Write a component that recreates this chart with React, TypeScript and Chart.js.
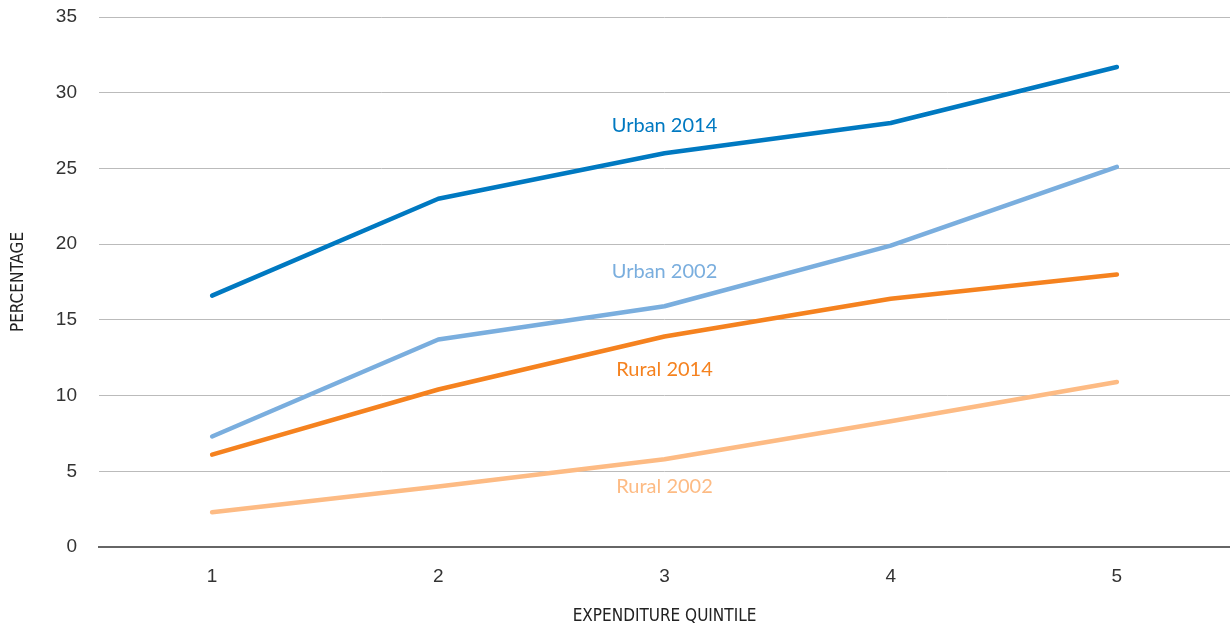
import React, { useEffect, useRef } from "react";
import { Chart, registerables } from "chart.js";

Chart.register(...registerables);

const categories = ["1", "2", "3", "4", "5"];
const urban2014 = [16.6, 23.0, 26.0, 28.0, 31.7];
const urban2002 = [7.3, 13.7, 15.9, 19.9, 25.1];
const rural2014 = [6.1, 10.4, 13.9, 16.4, 18.0];
const rural2002 = [2.3, 4.0, 5.8, 8.3, 10.9];
const seriesNames = ["Urban 2014", "Urban 2002", "Rural 2014", "Rural 2002"];
const seriesColors = ["#0079c1", "#7aaede", "#f5821f", "#fdbb84"];
const labelValues = [27.8, 18.2, 11.7, 4.0];
const labelCategory = "3";
const yTicks = [0, 5, 10, 15, 20, 25, 30, 35];

const labelPlugin = {
  id: "lineLabels",
  afterDatasetsDraw(chart: any) {
    const { ctx, scales } = chart;
    const x = scales.x.getPixelForValue(categories.indexOf(labelCategory));
    ctx.save();
    ctx.font = "20px Lato, 'Open Sans', sans-serif";
    ctx.textAlign = "center";
    ctx.textBaseline = "middle";
    seriesNames.forEach((name, i) => {
      ctx.fillStyle = seriesColors[i];
      ctx.fillText(name, x, scales.y.getPixelForValue(labelValues[i]));
    });
    ctx.restore();
  },
};

export default function App() {
  const ref = useRef<HTMLCanvasElement>(null);
  useEffect(() => {
    document.body.style.margin = "0";
    const data = [urban2014, urban2002, rural2014, rural2002];
    const chart = new Chart(ref.current!, {
      type: "line",
      data: {
        labels: categories,
        datasets: data.map((d, i) => ({
          label: seriesNames[i],
          data: d,
          borderColor: seriesColors[i],
          backgroundColor: seriesColors[i],
          borderWidth: 4.5,
          borderCapStyle: "round" as const,
          borderJoinStyle: "round" as const,
          pointRadius: 0,
          tension: 0,
        })),
      },
      options: {
        animation: false,
        responsive: false,
        maintainAspectRatio: false,
        layout: { padding: { top: 17, right: 0, left: 0, bottom: 0 } },
        plugins: { legend: { display: false }, tooltip: { enabled: false } },
        scales: {
          x: {
            offset: true,
            grid: { display: false, drawTicks: false },
            border: { display: true, color: "#666", width: 2 },
            ticks: {
              color: "#333",
              font: { size: 19, family: "'Liberation Sans', Arial, sans-serif" },
              padding: 18,
            },
            title: {
              display: true,
              text: "EXPENDITURE QUINTILE",
              color: "#222",
              font: { size: 17, family: "'Liberation Sans Narrow', 'DejaVu Sans Condensed', sans-serif" },
              padding: { top: 4, bottom: 0 },
            },
            afterFit(scale: any) {
              scale.height = 80;
              scale.paddingLeft = 0;
              scale.paddingRight = 0;
            },
          },
          y: {
            min: 0,
            max: 35,
            afterBuildTicks(scale: any) {
              scale.ticks = yTicks.map((v) => ({ value: v }));
            },
            grid: {
              color: (c: any) => (c.tick && c.tick.value === 0 ? "#666" : "#bbb"),
              lineWidth: (c: any) => (c.tick && c.tick.value === 0 ? 2 : 1),
              drawTicks: false,
            },
            border: { display: false },
            ticks: {
              color: "#333",
              font: { size: 19, family: "'Liberation Sans', Arial, sans-serif" },
              padding: 22,
            },
            title: {
              display: true,
              text: "PERCENTAGE",
              color: "#222",
              font: { size: 17, family: "'Liberation Sans Narrow', 'DejaVu Sans Condensed', sans-serif" },
              padding: { top: 8, bottom: 0 },
            },
            afterFit(scale: any) {
              scale.width = 99;
              scale.paddingTop = 0;
              scale.paddingBottom = 0;
            },
          },
        },
      },
      plugins: [labelPlugin],
    });
    return () => chart.destroy();
  }, []);
  return (
    <div style={{ width: 1230, height: 627 }}>
      <canvas ref={ref} width={1230} height={627} style={{ display: "block" }} />
    </div>
  );
}
